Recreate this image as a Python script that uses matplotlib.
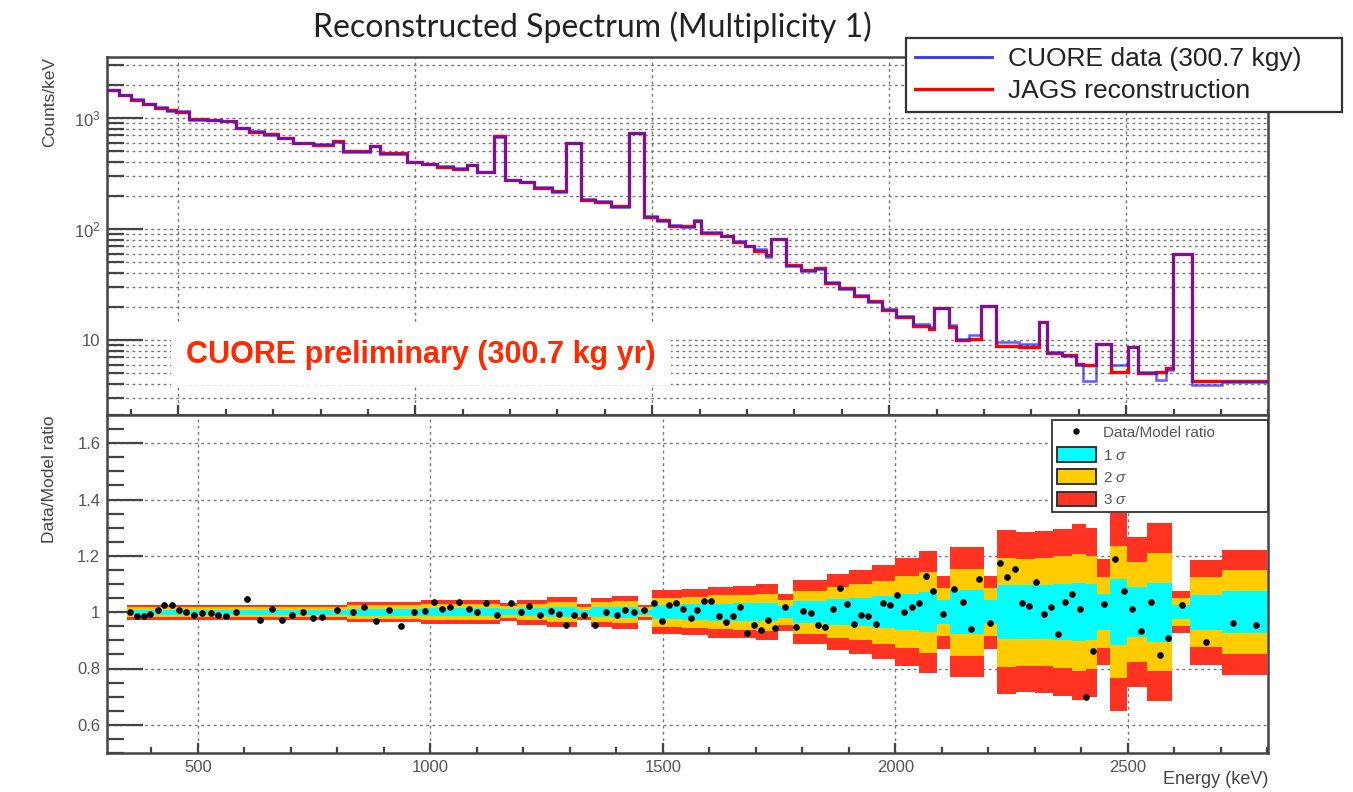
import matplotlib
matplotlib.use("Agg")
import matplotlib.pyplot as plt
from matplotlib.lines import Line2D
from matplotlib.patches import Patch
from matplotlib.ticker import MultipleLocator, LogLocator, NullFormatter, FormatStrFormatter

plt.rcParams['font.family'] = ['Liberation Sans', 'DejaVu Sans']
plt.rcParams['mathtext.fontset'] = 'custom'
plt.rcParams['mathtext.rm'] = 'Liberation Sans'
plt.rcParams['mathtext.it'] = 'Liberation Sans:italic'

# --- reconstructed spectrum (counts/keV), variable-width bins in keV ---
spec_edges = [350, 375, 400, 425, 450, 475, 495, 523, 560, 590,
              622, 650, 680, 710, 741, 785, 826, 848, 904, 925,
              982, 1015, 1045, 1080, 1109, 1130, 1165, 1190, 1220, 1250,
              1289, 1317, 1349, 1380, 1412, 1451, 1483, 1510, 1535, 1560,
              1588, 1603, 1645, 1670, 1695, 1715, 1741, 1751, 1783, 1813,
              1843, 1864, 1895, 1925, 1955, 1985, 2015, 2050, 2083, 2094,
              2126, 2140, 2168, 2193, 2225, 2274, 2316, 2334, 2365, 2394,
              2408, 2436, 2468, 2503, 2525, 2563, 2585, 2598, 2640, 2703,
              2800]
data_counts = [1800, 1600, 1480, 1330, 1250, 1160, 1150, 970, 960, 950,
               810, 760, 710, 660, 600, 585, 612, 495, 563, 474,
               400, 385, 370, 355, 378, 325, 680, 278, 265, 240,
               217, 592, 185, 178, 157, 738, 130, 118, 108, 104,
               120, 95, 86, 78, 70, 66, 56, 82, 46, 42,
               44, 33, 29, 25.5, 22, 19, 16.5, 14, 13, 19.3,
               13.6, 10.3, 11.0, 20.2, 9.5, 9.3, 14.6, 7.8, 7.2, 6.0,
               4.3, 9.3, 6.0, 8.7, 5.1, 4.4, 5.4, 59.6, 3.94, 4.2]
model_counts = [1790, 1620, 1460, 1350, 1240, 1170, 1140, 975, 960, 940,
                815, 755, 715, 655, 590, 575, 615, 500, 560, 480,
                405, 382, 365, 350, 375, 328, 690, 275, 268, 236,
                220, 590, 182, 176, 160, 735, 128, 120, 106, 106,
                117, 92, 87, 76, 71, 64, 58, 81, 47, 43,
                45, 32.5, 29.5, 25, 22.3, 18.6, 16.2, 13.5, 12.5, 19.3,
                13.0, 10.0, 10.3, 20.4, 8.8, 8.6, 14.6, 7.6, 7.4, 6.1,
                6.0, 9.3, 5.1, 8.7, 5.0, 5.1, 5.6, 59.6, 4.27, 4.27]

# --- ratio panel: 1 sigma width per band bin ---
band_edges = [347, 820, 980, 1150, 1187, 1250, 1315, 1345, 1390, 1447,
              1476, 1540, 1597, 1650, 1700, 1747, 1779, 1853, 1900, 1950,
              2000, 2050, 2089, 2118, 2190, 2218, 2260, 2300, 2340, 2380,
              2410, 2433, 2462, 2498, 2541, 2595, 2634, 2702, 2800]
band_sigma = [0.009, 0.012, 0.014, 0.011, 0.0147, 0.0177, 0.0093, 0.0173, 0.0197, 0.0087,
              0.026, 0.0275, 0.030, 0.031, 0.033, 0.022, 0.038, 0.045, 0.050, 0.056,
              0.064, 0.072, 0.043, 0.077, 0.043, 0.097, 0.095, 0.096, 0.099, 0.104,
              0.100, 0.063, 0.117, 0.089, 0.105, 0.025, 0.062, 0.074]

ratio_energy = [354, 369, 383, 397, 413, 428, 444, 460, 475, 491,
                509, 529, 544, 561, 582, 605, 634, 660, 681, 702,
                725, 747, 767, 799, 833, 858, 883, 911, 937, 964,
                989, 1007, 1025, 1043, 1062, 1082, 1100, 1119, 1144, 1173,
                1195, 1213, 1236, 1260, 1277, 1292, 1308, 1331, 1354, 1377,
                1401, 1419, 1437, 1460, 1481, 1498, 1514, 1529, 1544, 1560,
                1574, 1589, 1604, 1620, 1636, 1651, 1665, 1681, 1696, 1711,
                1726, 1742, 1763, 1787, 1802, 1819, 1833, 1849, 1865, 1880,
                1896, 1911, 1927, 1942, 1958, 1973, 1989, 2003, 2019, 2036,
                2050, 2066, 2081, 2102, 2127, 2145, 2162, 2180, 2204, 2225,
                2241, 2258, 2273, 2288, 2303, 2319, 2334, 2349, 2365, 2380,
                2396, 2410, 2426, 2449, 2473, 2491, 2508, 2529, 2550, 2569,
                2586, 2616, 2668, 2726, 2776]
ratio_value = [1.002, 0.985, 0.987, 0.994, 1.006, 1.026, 1.026, 1.006, 1.000, 0.990,
               0.996, 0.996, 0.990, 0.985, 1.000, 1.046, 0.973, 1.011, 0.973, 0.990,
               1.002, 0.981, 0.982, 1.008, 0.999, 1.018, 0.970, 1.008, 0.951, 1.000,
               1.005, 1.036, 1.012, 1.020, 1.036, 1.011, 0.999, 1.032, 0.990, 1.032,
               0.999, 1.022, 0.989, 1.005, 0.994, 0.953, 0.989, 0.991, 0.953, 1.001,
               0.989, 1.008, 0.999, 1.008, 1.032, 0.970, 1.024, 1.034, 1.012, 0.981,
               1.008, 1.040, 1.040, 0.988, 0.966, 0.988, 1.017, 0.925, 0.953, 0.937,
               0.973, 0.943, 1.017, 0.947, 1.005, 0.996, 0.953, 0.947, 1.012, 1.085,
               1.030, 0.959, 0.989, 0.985, 0.957, 1.032, 1.025, 1.060, 1.001, 1.018,
               1.034, 1.130, 1.076, 0.995, 1.084, 1.037, 0.942, 1.118, 0.963, 1.173,
               1.126, 1.152, 1.033, 1.021, 1.107, 0.993, 1.017, 0.921, 1.036, 1.063,
               1.013, 0.699, 0.863, 1.028, 1.187, 1.076, 1.011, 0.934, 1.037, 0.847,
               0.910, 1.025, 0.895, 0.960, 0.954]

log_ticks = [10, 100, 1000]
log_tick_labels = ['10', r'$10^{2}$', r'$10^{3}$']

W, H = 1353, 792
fig = plt.figure(figsize=(W / 100, H / 100), dpi=100)

AX_L, AX_R = 107.3, 1268.3
ax_top = fig.add_axes([AX_L / W, 1 - 415 / H, (AX_R - AX_L) / W, (415 - 57) / H])
ax_bot = fig.add_axes([AX_L / W, 1 - 753 / H, (AX_R - AX_L) / W, (753 - 415) / H])

GRID = dict(color='#777777', linestyle=(0, (2, 2.5)), linewidth=1.0)
TICKC = '#444444'

for ax in (ax_top, ax_bot):
    ax.set_axisbelow(True)
    for s in ax.spines.values():
        s.set_color(TICKC)
        s.set_linewidth(1.8)
    ax.tick_params(which='both', direction='in', color=TICKC, width=1.6,
                   labelcolor='#555555', labelsize=12, top=False, right=False)
    ax.tick_params(axis='y', which='major', length=26, pad=5)
    ax.tick_params(axis='y', which='minor', length=12)
    ax.tick_params(axis='x', which='major', length=7, pad=5)
    ax.tick_params(axis='x', which='minor', length=4)
    ax.xaxis.set_major_locator(MultipleLocator(500))
    ax.xaxis.set_minor_locator(MultipleLocator(100))
    ax.grid(True, which='major', axis='x', **GRID)

# --- top panel ---
ax_top.stairs(model_counts, spec_edges, baseline=None, color='#ff0000',
              linewidth=2.4, zorder=2)
ax_top.stairs(data_counts, spec_edges, baseline=None, color='#2020ff',
              linewidth=1.8, alpha=0.72, zorder=3)
ax_top.set_yscale('log')
ax_top.set_xlim(350, 2800)
ax_top.set_ylim(2.11, 3550)
ax_top.set_yticks(log_ticks, log_tick_labels)
ax_top.yaxis.set_minor_locator(LogLocator(base=10, subs=range(2, 10)))
ax_top.yaxis.set_minor_formatter(NullFormatter())
ax_top.tick_params(axis='x', labelbottom=False)
ax_top.grid(True, which='both', axis='y', **GRID)

top_handles = [Line2D([], [], color='#3030ff', linewidth=2.0),
               Line2D([], [], color='#ff0000', linewidth=2.4)]
leg = ax_top.legend(top_handles, ['CUORE data (300.7 kgy)', 'JAGS reconstruction'],
                    loc='upper left', mode='expand',
                    bbox_to_anchor=(906 / W, 1 - 117 / H, 436 / W, 79 / H),
                    bbox_transform=fig.transFigure, fontsize=19, frameon=True,
                    fancybox=False, framealpha=1, edgecolor='#333333',
                    handlelength=2.9, handletextpad=0.6, borderpad=0.35,
                    labelspacing=0.3, borderaxespad=0)
leg.get_frame().set_linewidth(1.6)
for t in leg.get_texts():
    t.set_color('#222222')

# --- ratio panel ---
hi3 = [1 + 3 * s for s in band_sigma]
lo3 = [1 - 3 * s for s in band_sigma]
hi2 = [1 + 2 * s for s in band_sigma]
lo2 = [1 - 2 * s for s in band_sigma]
hi1 = [1 + s for s in band_sigma]
lo1 = [1 - s for s in band_sigma]
ax_bot.stairs(hi3, band_edges, baseline=lo3, fill=True, color='#ff3322', linewidth=0, zorder=1)
ax_bot.stairs(hi2, band_edges, baseline=lo2, fill=True, color='#ffcc00', linewidth=0, zorder=1.1)
ax_bot.stairs(hi1, band_edges, baseline=lo1, fill=True, color='#00ffff', linewidth=0, zorder=1.2)
ax_bot.plot(ratio_energy, ratio_value, linestyle='none', marker='o', markersize=3.8,
            color='black', zorder=3)
ax_bot.set_xlim(305, 2802)
ax_bot.set_ylim(0.5, 1.7)
ax_bot.yaxis.set_major_locator(MultipleLocator(0.2))
ax_bot.yaxis.set_minor_locator(MultipleLocator(0.05))
ax_bot.yaxis.set_major_formatter(FormatStrFormatter('%g'))
ax_bot.grid(True, which='major', axis='y', **GRID)

bot_handles = [Line2D([], [], linestyle='none', marker='o', markersize=3.6, color='black'),
               Patch(facecolor='#00ffff', edgecolor='#333333', linewidth=1.4),
               Patch(facecolor='#ffcc00', edgecolor='#333333', linewidth=1.4),
               Patch(facecolor='#ff3322', edgecolor='#333333', linewidth=1.4)]
leg2 = ax_bot.legend(bot_handles, ['Data/Model ratio', '1 $\\sigma$', '2 $\\sigma$', '3 $\\sigma$'],
                     loc='upper left', mode='expand',
                     bbox_to_anchor=(1052 / W, 1 - 515 / H, (AX_R - 1052) / W, 95 / H),
                     bbox_transform=fig.transFigure, fontsize=11, frameon=True,
                     fancybox=False, framealpha=1, edgecolor='#333333',
                     handlelength=2.6, handleheight=1.1, handletextpad=0.45,
                     borderpad=0.3, labelspacing=0.45, borderaxespad=0)
leg2.get_frame().set_linewidth(1.3)
for t in leg2.get_texts():
    t.set_color('#555555')

# --- texts ---
fig.text(592 / W, 1 - 27 / H, 'Reconstructed Spectrum (Multiplicity 1)',
         ha='center', va='center', fontsize=23, color='#222222',
         family=['Lato', 'Liberation Sans'])
fig.text(421 / W, 1 - 355 / H, 'CUORE preliminary (300.7 kg yr)',
         ha='center', va='center', fontsize=22, fontweight='bold', color='#ff2a00',
         bbox=dict(facecolor='white', edgecolor='none', pad=11))
fig.text(50 / W, 1 - 57 / H, 'Counts/keV', rotation=90, ha='center', va='top',
         fontsize=12.5, color='#444444')
fig.text(50 / W, 1 - 415 / H, 'Data/Model ratio', rotation=90, ha='center', va='top',
         fontsize=12.5, color='#444444')
fig.text(AX_R / W, 1 - 780 / H, 'Energy (keV)', ha='right', va='center',
         fontsize=13, color='#444444')

fig.savefig('out.png', dpi=100)
